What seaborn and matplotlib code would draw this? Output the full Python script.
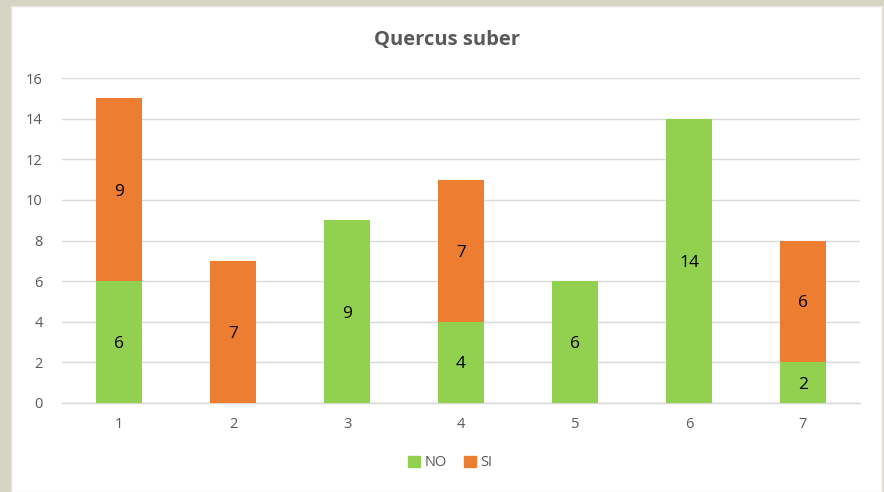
import numpy as np
import pandas as pd
import seaborn as sns
from matplotlib import pyplot as plt
from matplotlib.patches import Rectangle, Patch

# data
categories = ['1', '2', '3', '4', '5', '6', '7']
no_vals = [6, 0, 9, 4, 6, 14, 2]
si_vals = [9, 7, 0, 7, 0, 0, 6]

green = '#92D050'
orange = '#ED7D31'
grey_txt = '#595959'

df = pd.DataFrame({'cat': categories, 'NO': no_vals, 'SI': si_vals})
df['total'] = df['NO'] + df['SI']

sns.set_style('white')
plt.rcParams['font.family'] = ['Open Sans', 'DejaVu Sans']

fig = plt.figure(figsize=(8.84, 4.92), dpi=100)
fig.patch.set_facecolor('#d6d4c2')
# white chart area over the textured background
fig.patches.append(Rectangle((11 / 884, 0), 871 / 884, 1 - 6 / 492, transform=fig.transFigure,
                             facecolor='white', edgecolor='#e4e4e4', lw=1, zorder=-10))

ax = fig.add_axes([62 / 884, 1 - 403 / 492, 798 / 884, 325 / 492])
ax.set_facecolor('white')

# stacked bars: total in orange first, then NO in green on top of it
sns.barplot(data=df, x='cat', y='total', color=orange, saturation=1, width=0.4,
            linewidth=0, ax=ax, zorder=3)
sns.barplot(data=df, x='cat', y='NO', color=green, saturation=1, width=0.4,
            linewidth=0, ax=ax, zorder=4)

for i, (n, s) in enumerate(zip(no_vals, si_vals)):
    if n:
        ax.text(i, n / 2, str(n), ha='center', va='center_baseline', fontsize=12.5, color='black', zorder=5)
    if s:
        ax.text(i, n + s / 2, str(s), ha='center', va='center_baseline', fontsize=12.5, color='black', zorder=5)

ax.set_ylim(0, 16)
ax.set_xlim(-0.5, 6.5)
ax.set_yticks(range(0, 17, 2))
ax.yaxis.grid(True, color='#d9d9d9', lw=1, zorder=0)
ax.set_axisbelow(True)
for sp in ['top', 'right', 'left']:
    ax.spines[sp].set_visible(False)
ax.spines['bottom'].set_color('#d9d9d9')
ax.spines['bottom'].set_linewidth(1)
ax.tick_params(axis='both', length=0, labelsize=10.5, labelcolor=grey_txt)
ax.tick_params(axis='y', pad=14)
ax.tick_params(axis='x', pad=10)
ax.set_xlabel('')
ax.set_ylabel('')

fig.text(447 / 884, 1 - 40 / 492, 'Quercus suber', ha='center', va='center',
         fontsize=14.5, fontweight='bold', color=grey_txt)

handles = [Patch(color=green, label='NO'), Patch(color=orange, label='SI')]
fig.legend(handles=handles, loc='center', bbox_to_anchor=(450 / 884, 1 - 463 / 492), ncol=2,
           frameon=False, fontsize=10.5, labelcolor=grey_txt, handlelength=0.8, handleheight=0.8,
           handletextpad=0.3, columnspacing=1.2)

plt.savefig('out.png', dpi=100, facecolor=fig.get_facecolor())
